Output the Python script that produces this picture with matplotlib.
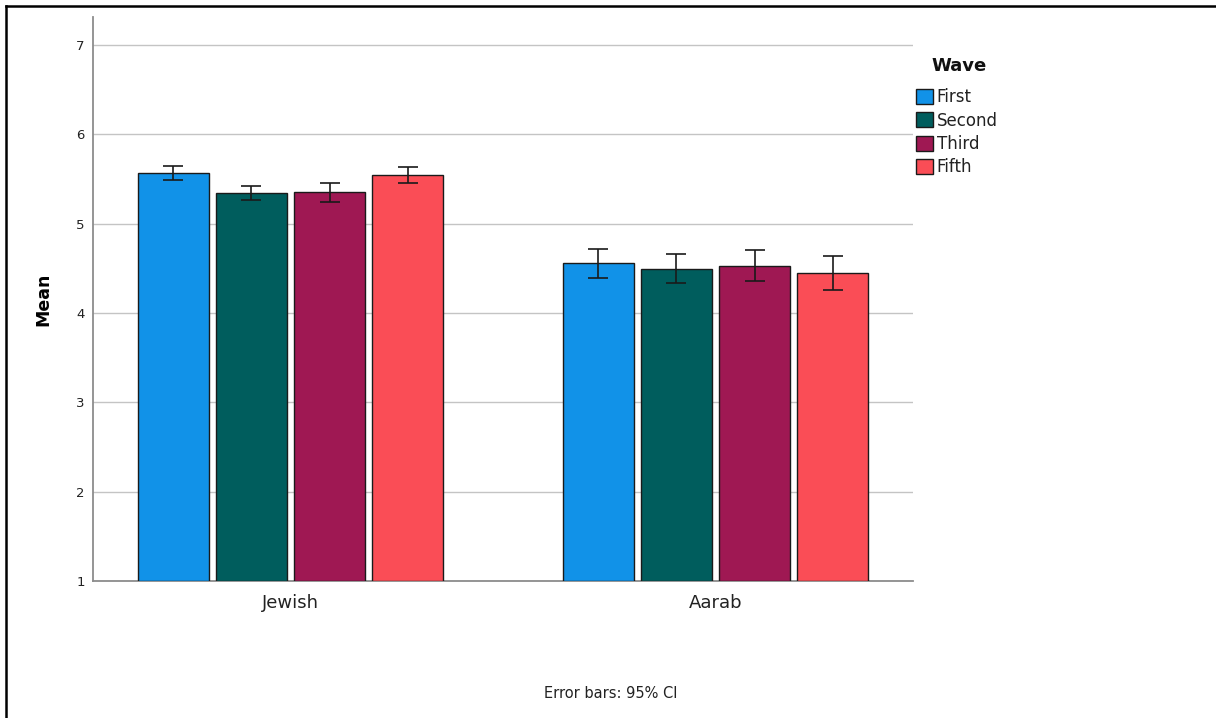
import matplotlib
matplotlib.use("Agg")
import matplotlib.pyplot as plt
import numpy as np
from matplotlib.lines import Line2D

groups = ["Jewish", "Aarab"]
waves = ["First", "Second", "Third", "Fifth"]
colors = ["#1192e8", "#005d5d", "#9f1853", "#fa4d56"]
means = {
    "First":  [5.57, 4.56],
    "Second": [5.34, 4.49],
    "Third":  [5.35, 4.53],
    "Fifth":  [5.54, 4.45],
}
ci_low = {
    "First":  [5.49, 4.39],
    "Second": [5.26, 4.33],
    "Third":  [5.24, 4.36],
    "Fifth":  [5.46, 4.26],
}
ci_high = {
    "First":  [5.65, 4.72],
    "Second": [5.42, 4.66],
    "Third":  [5.46, 4.70],
    "Fifth":  [5.63, 4.64],
}
yticks = [1, 2, 3, 4, 5, 6, 7]

plt.rcParams['font.family'] = ['DejaVu Sans']
fig = plt.figure(figsize=(12.16, 7.18), dpi=100)
ax = fig.add_axes([93/1216, 1-581/718, (913-93)/1216, (581-17)/718])

x = np.arange(len(groups))
width = 0.167
step = 0.184
for i, w in enumerate(waves):
    pos = x + (i - 1.5) * step
    m = np.array(means[w])
    lo = m - np.array(ci_low[w])
    hi = np.array(ci_high[w]) - m
    ax.bar(pos, m - 1, width, bottom=1, color=colors[i], edgecolor="#1a1a1a",
           linewidth=1.0, label=w, zorder=3)
    ax.errorbar(pos, m, yerr=[lo, hi], fmt="none", ecolor="#1a1a1a",
                elinewidth=1.2, capsize=7.2, capthick=1.2, zorder=4)

ax.set_xlim(-0.465, 1.465)
ax.set_ylim(1, 7.313)
ax.set_yticks(yticks)
ax.set_yticklabels([str(t) for t in yticks], fontsize=9.5, color="#222222")
ax.set_xticks(x)
ax.set_xticklabels(groups, fontsize=13, color="#222222")
ax.tick_params(axis="both", length=0)
ax.tick_params(axis="y", pad=6)
ax.tick_params(axis="x", pad=9)
ax.yaxis.grid(True, color="#c4c4c4", linewidth=1.0, zorder=0)
ax.set_axisbelow(True)
for s in ["top", "right"]:
    ax.spines[s].set_visible(False)
for s in ["left", "bottom"]:
    ax.spines[s].set_color("#8c8c8c")
    ax.spines[s].set_linewidth(1.3)
ax.set_ylabel("Mean", fontsize=12.5, fontweight="bold", labelpad=17)

leg = ax.legend(loc="upper left", bbox_to_anchor=(916/1216, 1-88/718),
                bbox_transform=fig.transFigure, frameon=False, fontsize=12,
                handlelength=1.0, handleheight=1.0, handletextpad=0.25,
                labelspacing=0.33, borderpad=0, borderaxespad=0)
for t in leg.get_texts():
    t.set_color("#222222")
fig.text(959/1216, 1-66/718, "Wave", ha="center", va="center",
         fontsize=13, fontweight="bold", color="#111111")

fig.text(611/1216, 1-693/718, "Error bars: 95% CI", ha="center", va="center",
         fontsize=10.5, color="#222222")

fig.add_artist(Line2D([6/1216, 1], [1-6/718, 1-6/718], transform=fig.transFigure,
                      color="black", linewidth=1.8))
fig.add_artist(Line2D([6/1216, 6/1216], [0, 1-6/718], transform=fig.transFigure,
                      color="black", linewidth=1.8))

fig.savefig("out.png", dpi=100)
